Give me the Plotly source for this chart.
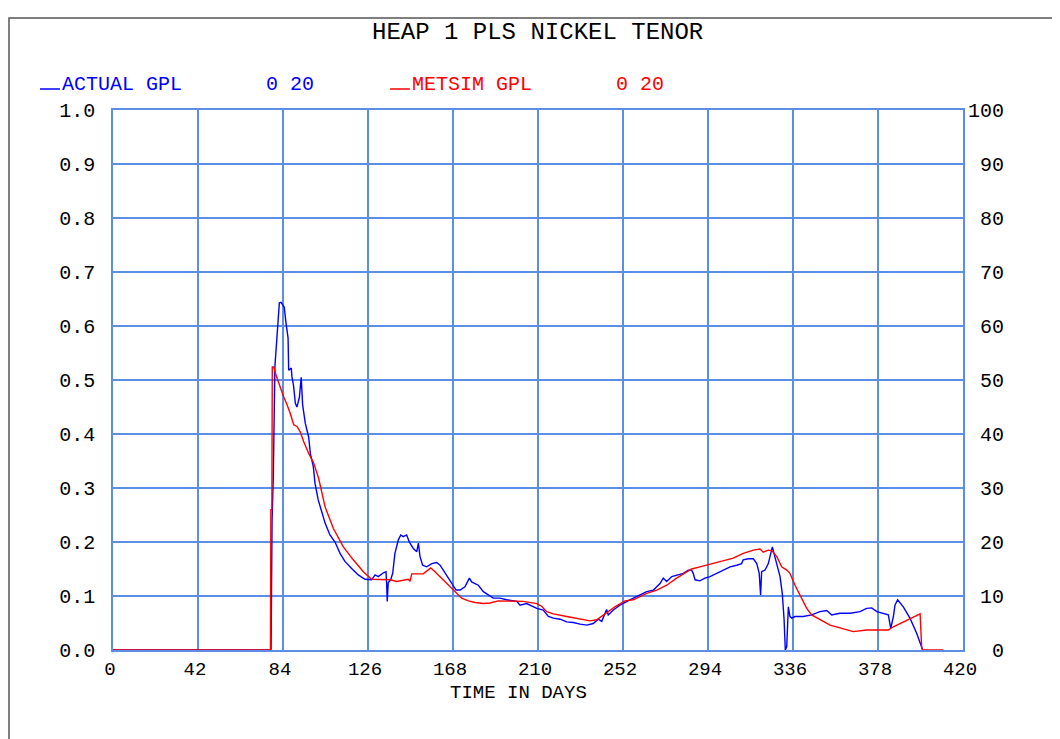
import plotly.graph_objects as go

# ---- data (days, grams per litre) ----
actual_days = [0, 78.1, 78.6, 79.2, 80.0, 80.5, 81.2, 82.2, 83.0, 84.6, 85.5, 86.5, 86.8, 88.1, 88.4,
               89.2, 90.1, 90.9, 92.1, 93.0, 93.7, 95.0, 96.7, 97.5, 99.0, 99.8, 101.4, 103.1, 104.8,
               107.2, 109.7, 112.2, 114.6, 117.9, 121.2, 124.5, 127.8, 129.5, 131.1, 133.6, 134.9,
               135.2, 135.5, 136.0, 137.2, 138.2, 139.3, 141.0, 142.2, 143.4, 145.1, 146.4, 148.4,
               150.1, 150.9, 151.7, 153.0, 155.0, 157.5, 159.9, 161.6, 163.2, 165.7, 167.4, 169.5,
               171.5, 173.9, 176.1, 177.2, 178.9, 180.5, 183.0, 185.4, 187.9, 191.2, 194.5, 199.5,
               201.1, 204.4, 209.4, 212.6, 215.1, 217.6, 220.9, 224.2, 227.4, 230.8, 234.1, 237.3,
               239.8, 241.5, 243.9, 244.7, 247.2, 250.5, 253.8, 257.1, 260.4, 263.7, 267.0, 270.3,
               271.9, 273.6, 276.1, 278.5, 281.8, 284.3, 285.9, 286.7, 287.6, 290.0, 292.5, 295.0,
               298.3, 301.6, 304.9, 308.2, 310.6, 311.4, 313.9, 316.4, 318.1, 319.3, 320.0, 320.5,
               322.2, 323.8, 325.0, 325.8, 326.6, 328.0, 329.6, 330.7, 331.6, 332.2, 332.9, 333.7,
               334.5, 335.4, 337.0, 341.1, 345.2, 349.3, 352.7, 355.1, 359.2, 364.2, 369.1, 372.4,
               374.9, 377.4, 380.6, 383.1, 384.3, 385.6, 386.4, 387.7, 390.5, 393.8, 397.1, 399.6,
               400.1]
actual_gpl = [0, 0, 0.24, 0.32, 0.525, 0.552, 0.605, 0.643, 0.644, 0.635, 0.605, 0.578, 0.518, 0.522,
              0.506, 0.49, 0.457, 0.45, 0.468, 0.505, 0.454, 0.42, 0.394, 0.364, 0.339, 0.309, 0.278,
              0.256, 0.235, 0.213, 0.20, 0.179, 0.164, 0.151, 0.139, 0.131, 0.13, 0.139, 0.136, 0.143,
              0.145, 0.123, 0.09, 0.125, 0.13, 0.142, 0.179, 0.204, 0.213, 0.21, 0.213, 0.2, 0.188,
              0.182, 0.198, 0.173, 0.157, 0.154, 0.160, 0.162, 0.157, 0.148, 0.133, 0.123, 0.111,
              0.111, 0.117, 0.133, 0.126, 0.123, 0.12, 0.108, 0.102, 0.096, 0.096, 0.093, 0.09,
              0.083, 0.086, 0.077, 0.074, 0.062, 0.059, 0.057, 0.052, 0.051, 0.048, 0.046, 0.049,
              0.057, 0.053, 0.075, 0.065, 0.074, 0.083, 0.09, 0.096, 0.102, 0.108, 0.111, 0.123,
              0.133, 0.127, 0.136, 0.139, 0.142, 0.148, 0.148, 0.142, 0.13, 0.128, 0.133, 0.136,
              0.142, 0.148, 0.154, 0.157, 0.16, 0.167, 0.169, 0.169, 0.16, 0.142, 0.102, 0.145,
              0.148, 0.16, 0.179, 0.191, 0.179, 0.16, 0.136, 0.105, 0.056, 0.0, 0.006, 0.08,
              0.062, 0.059, 0.062, 0.062, 0.065, 0.071, 0.073, 0.065, 0.068, 0.068, 0.071, 0.077,
              0.078, 0.071, 0.068, 0.065, 0.04, 0.062, 0.083, 0.093, 0.08, 0.059, 0.031, 0.006,
              0.0]

metsim_days = [0, 77.8, 78.0, 78.5, 78.7, 79.4, 81.0, 82.7, 84.3, 86.0, 87.6, 89.3, 90.9, 92.5, 94.2,
               96.7, 99.2, 101.6, 104.8, 108.9, 113.8, 118.7, 123.7, 127.8, 131.9, 136.9, 140.2,
               143.4, 145.9, 146.8, 147.6, 153.3, 155.8, 157.0, 159.1, 162.4, 165.7, 169.0, 172.3,
               175.6, 178.9, 183.0, 186.3, 190.4, 196.2, 202.7, 209.4, 211.8, 214.3, 217.6, 224.2,
               230.8, 235.7, 239.0, 241.5, 244.7, 248.0, 250.5, 253.0, 257.1, 260.4, 263.7, 268.7,
               273.6, 278.5, 283.5, 285.9, 290.0, 295.0, 299.9, 306.5, 311.4, 316.4, 319.7, 321.3,
               323.8, 325.5, 328.0, 330.4, 332.9, 334.5, 337.0, 340.3, 342.8, 345.2, 349.3, 354.3,
               359.2, 365.8, 372.4, 383.1, 385.6, 388.9, 392.2, 395.4, 398.8, 399.6, 400.1, 410.3]
metsim_gpl = [0, 0, 0.26, 0.26, 0.524, 0.524, 0.504, 0.485, 0.469, 0.454, 0.438, 0.417, 0.414, 0.404,
              0.386, 0.364, 0.346, 0.318, 0.265, 0.225, 0.191, 0.167, 0.145, 0.131, 0.13, 0.13,
              0.127, 0.13, 0.131, 0.127, 0.141, 0.141, 0.148, 0.152, 0.145, 0.133, 0.12, 0.108,
              0.096, 0.091, 0.088, 0.086, 0.087, 0.091, 0.09, 0.09, 0.086, 0.081, 0.071, 0.067,
              0.062, 0.057, 0.054, 0.056, 0.062, 0.071, 0.08, 0.086, 0.091, 0.093, 0.099, 0.105,
              0.111, 0.12, 0.133, 0.145, 0.15, 0.154, 0.159, 0.164, 0.17, 0.179, 0.185, 0.187,
              0.181, 0.185, 0.184, 0.173, 0.154, 0.148, 0.142, 0.12, 0.096, 0.077, 0.065, 0.056,
              0.046, 0.041, 0.034, 0.037, 0.037, 0.043, 0.049, 0.056, 0.062, 0.067, 0.003, 0.0, 0.0]

x_ticks = [0, 42, 84, 126, 168, 210, 252, 294, 336, 378, 420]
right_ticks = [0, 10, 20, 30, 40, 50, 60, 70, 80, 90, 100]
title_text = "HEAP 1 PLS NICKEL TENOR"
x_title = "TIME IN DAYS"
series_names = ["ACTUAL GPL", "METSIM GPL"]
series_ranges = ["0 20", "0 20"]
series_colors = ["#0000FF", "#FF0000"]

GRID = "#5B8FE6"
MONO = "Liberation Mono, Courier New, monospace"

# right-axis labels are right-aligned: pad with non-breaking spaces (monospace font)
right_text = [str(v).rjust(3).replace(" ", "\u00a0") for v in right_ticks]

fig = go.Figure()
fig.add_trace(go.Scatter(x=actual_days, y=actual_gpl, mode="lines", name=series_names[0],
                         line=dict(color=series_colors[0], width=1.4), showlegend=False))
fig.add_trace(go.Scatter(x=metsim_days, y=metsim_gpl, mode="lines", name=series_names[1],
                         line=dict(color=series_colors[1], width=1.4), showlegend=False))
# invisible trace to activate the right-hand axis
fig.add_trace(go.Scatter(x=[0], y=[0], yaxis="y2", mode="markers",
                         marker=dict(opacity=0), showlegend=False, hoverinfo="skip"))

# the page body adds an 8px margin, so the figure is placed at (8, 8)
OFF = 8
W, H = 1052, 731
L, R, T, B = 105, 97, 102, 89
PL, PT = OFF + L, OFF + T            # plot left / top in page pixels
pw, ph = W - L - R, H - T - B

def px(xp):
    return (xp - PL) / pw

def py(yp):
    return (PT + ph - yp) / ph

fig.update_layout(
    width=W, height=H,
    margin=dict(l=L, r=R, t=T, b=B, pad=0),
    paper_bgcolor="white", plot_bgcolor="white",
    font=dict(family=MONO, color="#000000", size=20),
    xaxis=dict(range=[0, 420], tickvals=x_ticks, showgrid=True, gridcolor=GRID, gridwidth=1.5,
               showline=True, linecolor=GRID, linewidth=1.5, mirror=True, zeroline=False,
               ticks="", tickfont=dict(size=19), ticklabelstandoff=0, ticklabelshift=-3),
    yaxis=dict(range=[0, 1], dtick=0.1, tickformat=".1f", showgrid=True, gridcolor=GRID,
               gridwidth=1.5, showline=True, linecolor=GRID, linewidth=1.5, mirror=True,
               zeroline=False, ticks="", tickfont=dict(size=20), ticklabelstandoff=12),
    yaxis2=dict(range=[0, 100], tickvals=right_ticks, ticktext=right_text, overlaying="y",
                side="right", showgrid=False, zeroline=False, showline=False, ticks="",
                tickfont=dict(size=20), ticklabelstandoff=4),
)

annotations = [
    dict(text=title_text, x=px(537), y=py(32), xref="paper", yref="paper", showarrow=False,
         font=dict(size=24, family=MONO), xanchor="center", yanchor="middle"),
    dict(text=x_title, x=px(518), y=py(693), xref="paper", yref="paper", showarrow=False,
         font=dict(size=19, family=MONO), xanchor="center", yanchor="middle"),
]
legend_x = [(60, 264), (410, 614)]
line_x = [(40, 60), (390, 410)]
for i in range(2):
    annotations.append(dict(text=series_names[i], x=px(legend_x[i][0]), y=py(84), xref="paper",
                            yref="paper", showarrow=False, xanchor="left", yanchor="middle",
                            font=dict(size=20, color=series_colors[i], family=MONO)))
    annotations.append(dict(text=series_ranges[i], x=px(legend_x[i][1]), y=py(84), xref="paper",
                            yref="paper", showarrow=False, xanchor="left", yanchor="middle",
                            font=dict(size=20, color=series_colors[i], family=MONO)))
fig.update_layout(annotations=annotations)

shapes = [
    dict(type="line", xref="paper", yref="paper", x0=px(line_x[i][0]), x1=px(line_x[i][1]),
         y0=py(89), y1=py(89), line=dict(color=series_colors[i], width=1.5))
    for i in range(2)
]
shapes.append(dict(type="rect", xref="paper", yref="paper", x0=px(9), x1=px(1200), y0=py(18),
                   y1=py(900), line=dict(color="#555555", width=1.5), fillcolor="rgba(0,0,0,0)",
                   layer="below"))
fig.update_layout(shapes=shapes)

fig.write_html("out.html")
